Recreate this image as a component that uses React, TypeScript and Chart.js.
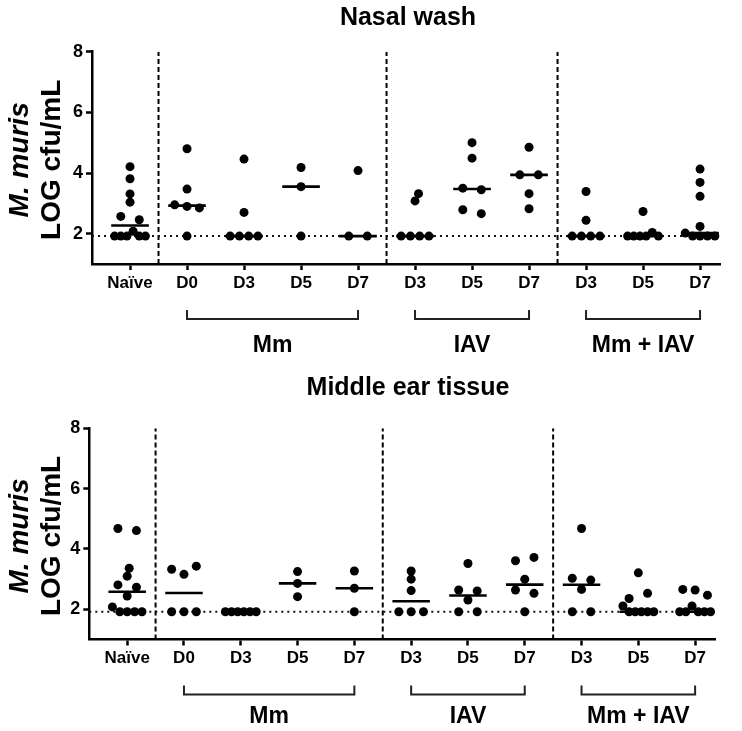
import React, { useEffect, useRef } from "react";
import { Chart, registerables } from "chart.js";

Chart.register(...registerables);

// ---------- data ----------
const categories = ["Naïve", "D0", "D3", "D5", "D7", "D3", "D5", "D7", "D3", "D5", "D7"];
const groupLabels = ["Mm", "IAV", "Mm + IAV"];
const groupFirst = [1, 5, 8];
const groupLast = [4, 7, 10];
const separatorsAt = [0.5, 4.5, 7.5];
const yTickValues = [2, 4, 6, 8];
const Y_MIN = 1;
const Y_MAX = 8;
const LOD = 1.92;
const L = LOD;

// Nasal wash (log cfu/mL)
const nasalNaive = [L, L, L, 2.08, L, L, 2.57, 2.46, 3.04, 3.31, 3.81, 4.21];
const nasalMmD0 = [L, 2.95, 2.9, 2.85, 3.47, 4.8];
const nasalMmD3 = [L, L, L, L, 2.7, 4.46];
const nasalMmD5 = [L, 3.55, 4.18];
const nasalMmD7 = [L, L, 4.08];
const nasalIavD3 = [L, L, L, L, 3.08, 3.32];
const nasalIavD5 = [2.79, 2.66, 3.5, 3.45, 4.49, 5.0];
const nasalIavD7 = [2.82, 3.32, 3.94, 3.94, 4.85];
const nasalMixD3 = [L, L, L, L, 2.44, 3.39];
const nasalMixD5 = [L, L, L, L, 2.04, L, 2.73];
const nasalMixD7 = [2.02, L, L, L, L, 2.24, 3.23, 3.69, 4.13];

// Middle ear tissue (log cfu/mL)
const earNaive = [2.08, L, L, L, L, 2.44, 2.81, 2.73, 3.1, 3.36, 4.68, 4.61];
const earMmD0 = [L, L, L, 3.33, 3.16, 3.43];
const earMmD3 = [L, L, L, L, L, L];
const earMmD5 = [2.42, 2.86, 3.25];
const earMmD7 = [L, 2.7, 3.27];
const earIavD3 = [L, L, L, 2.62, 3.0, 3.27];
const earIavD5 = [L, L, 2.31, 2.64, 2.61, 3.52];
const earIavD7 = [L, 2.64, 2.53, 3.0, 3.61, 3.72];
const earMixD3 = [L, L, 2.66, 3.03, 2.97, 4.68];
const earMixD5 = [2.11, L, L, L, L, L, 2.36, 2.53, 3.21];
const earMixD7 = [L, L, 2.11, L, L, L, 2.66, 2.64, 2.47];

const nasalSeries = [
  nasalNaive, nasalMmD0, nasalMmD3, nasalMmD5, nasalMmD7,
  nasalIavD3, nasalIavD5, nasalIavD7, nasalMixD3, nasalMixD5, nasalMixD7,
];
const earSeries = [
  earNaive, earMmD0, earMmD3, earMmD5, earMmD7,
  earIavD3, earIavD5, earIavD7, earMixD3, earMixD5, earMixD7,
];

// ---------- styles / layout ----------
const FONT = "'Liberation Sans', Arial, sans-serif";
const X_MIN = -0.667;
const X_MAX = 10.35;
const MEDIAN_HALF = 0.33;
const DOT_R = 4.5;
const ROW_WIDTH_PX = 37;
const COLLIDE_PX = 8;

type PanelLayout = {
  title: string;
  series: number[][];
  height: number;
  top: number;
  padTop: number;
  padRight: number;
  yAxisWidth: number;
  chartBottom: number;
  groupDy: number;
};

const panels: PanelLayout[] = [
  { title: "Nasal wash", series: nasalSeries, height: 370, top: 0, padTop: 51.7, padRight: 22, yAxisWidth: 92, chartBottom: 264, groupDy: 82 },
  { title: "Middle ear tissue", series: earSeries, height: 361, top: 370, padTop: 58.3, padRight: 27, yAxisWidth: 89.3, chartBottom: 269.5, groupDy: 77 },
];

function median(vals: number[]) {
  const s = [...vals].sort((a, b) => a - b);
  const n = s.length;
  return n % 2 ? s[(n - 1) / 2] : (s[n / 2 - 1] + s[n / 2]) / 2;
}

// deterministic dot-plot spreading (pixel space), GraphPad-like
function spread(vals: number[], toPy: (v: number) => number): number[] {
  const idx = vals.map((_, i) => i).sort((a, b) => vals[a] - vals[b] || a - b);
  const rows: number[][] = [];
  let cur = [idx[0]];
  for (let k = 1; k < idx.length; k++) {
    if (vals[idx[k]] - vals[idx[k - 1]] <= 0.2) cur.push(idx[k]);
    else {
      rows.push(cur);
      cur = [idx[k]];
    }
  }
  rows.push(cur);
  const placed: { x: number; y: number }[] = [];
  const off = new Array(vals.length).fill(0);
  for (const row of rows) {
    const r = [...row].sort((a, b) => a - b);
    const n = r.length;
    const sp = ROW_WIDTH_PX / n;
    const newPts: { x: number; y: number }[] = [];
    r.forEach((i, j) => {
      const y = toPy(vals[i]);
      let x = (j - (n - 1) / 2) * sp;
      if (n === 1) {
        const ok = (cx: number) => placed.every((p) => Math.hypot(p.x - cx, p.y - y) >= COLLIDE_PX);
        if (!ok(0)) {
          for (let s = 0.5; s <= 25; s += 0.5) {
            if (ok(s)) { x = s; break; }
            if (ok(-s)) { x = -s; break; }
          }
        }
      }
      off[i] = x;
      newPts.push({ x, y });
    });
    placed.push(...newPts);
  }
  return off;
}

function makeDecor(p: PanelLayout) {
  return {
    id: "decor",
    afterDraw(chart: any) {
      const { ctx, chartArea, scales } = chart;
      const xs = scales.x;
      ctx.save();
      ctx.fillStyle = "#000";
      // title
      ctx.textAlign = "center";
      ctx.textBaseline = "middle";
      ctx.font = `bold 25px ${FONT}`;
      ctx.fillText(p.title, 408, 18);
      // y axis title (two lines, first italic)
      const cy = (chartArea.top + chartArea.bottom) / 2 + 2;
      ctx.save();
      ctx.translate(28, cy);
      ctx.rotate(-Math.PI / 2);
      ctx.textBaseline = "alphabetic";
      ctx.font = `italic bold 28px ${FONT}`;
      ctx.fillText("M. muris", 0, 0);
      ctx.restore();
      ctx.save();
      ctx.translate(60, cy);
      ctx.rotate(-Math.PI / 2);
      ctx.textBaseline = "alphabetic";
      ctx.font = `bold 28px ${FONT}`;
      ctx.fillText("LOG cfu/mL", 0, 0);
      ctx.restore();
      // group brackets
      ctx.strokeStyle = "#222";
      ctx.lineWidth = 2;
      groupLabels.forEach((g, k) => {
        const x1 = xs.getPixelForValue(groupFirst[k]);
        const x2 = xs.getPixelForValue(groupLast[k]);
        const yt = chartArea.bottom + 46;
        const yb = chartArea.bottom + 55;
        ctx.beginPath();
        ctx.moveTo(x1, yt);
        ctx.lineTo(x1, yb);
        ctx.lineTo(x2, yb);
        ctx.lineTo(x2, yt);
        ctx.stroke();
        ctx.font = `bold 23px ${FONT}`;
        ctx.textBaseline = "middle";
        ctx.textAlign = "center";
        ctx.fillText(g, (x1 + x2) / 2, chartArea.bottom + p.groupDy);
      });
      ctx.restore();
    },
  };
}

function buildConfig(p: PanelLayout): any {
  const pointsInit = p.series.flatMap((vals, i) => vals.map((v) => ({ x: i, y: v })));
  const medianSets = p.series.map((vals, i) => {
    const m = median(vals);
    return {
      data: [{ x: i - MEDIAN_HALF, y: m }, { x: i + MEDIAN_HALF, y: m }],
      showLine: true,
      borderColor: "#000",
      borderWidth: 2.6,
      pointRadius: 0,
    };
  });
  const lodSet = {
    data: [{ x: X_MIN, y: LOD }, { x: X_MAX, y: LOD }],
    showLine: true,
    borderColor: "#111",
    borderWidth: 2,
    borderDash: [2, 4],
    pointRadius: 0,
  };
  const sepSets = separatorsAt.map((s) => ({
    data: [{ x: s, y: Y_MIN }, { x: s, y: Y_MAX }],
    showLine: true,
    borderColor: "#000",
    borderWidth: 2,
    borderDash: [5, 3],
    pointRadius: 0,
  }));
  const tickFont = { family: FONT, size: 17, weight: "bold" as const };
  const yTickFont = { family: FONT, size: 18, weight: "bold" as const };
  const grid = {
    display: true,
    drawOnChartArea: false,
    drawTicks: true,
    tickLength: 6,
    tickWidth: 2.5,
    tickColor: "#000",
  };
  const border = { display: true, color: "#000", width: 2.5 };
  return {
    type: "scatter",
    data: {
      datasets: [
        {
          data: pointsInit,
          pointRadius: DOT_R,
          pointBackgroundColor: "#000",
          pointBorderWidth: 0,
          showLine: false,
          clip: false,
        },
        ...medianSets,
        lodSet,
        ...sepSets,
      ],
    },
    options: {
      responsive: false,
      maintainAspectRatio: false,
      devicePixelRatio: 1,
      animation: false,
      events: [],
      layout: { padding: { top: p.padTop, left: 0, right: p.padRight, bottom: 0 } },
      plugins: { legend: { display: false }, tooltip: { enabled: false }, title: { display: false } },
      scales: {
        x: {
          type: "linear",
          min: X_MIN,
          max: X_MAX,
          afterBuildTicks: (s: any) => {
            s.ticks = categories.map((_, i) => ({ value: i }));
          },
          afterFit: (s: any) => {
            s.height = p.height - p.chartBottom;
          },
          ticks: {
            callback: (v: any) => categories[Math.round(Number(v))] ?? "",
            font: tickFont,
            color: "#000",
            padding: 3,
            autoSkip: false,
            maxRotation: 0,
          },
          grid,
          border,
        },
        y: {
          type: "linear",
          min: Y_MIN,
          max: Y_MAX,
          afterBuildTicks: (s: any) => {
            s.ticks = yTickValues.map((v) => ({ value: v }));
          },
          afterFit: (s: any) => {
            s.width = p.yAxisWidth;
          },
          ticks: { font: yTickFont, color: "#000", padding: 3 },
          grid,
          border,
        },
      },
    },
    plugins: [makeDecor(p)],
  };
}

function Panel({ p }: { p: PanelLayout }) {
  const ref = useRef<HTMLCanvasElement | null>(null);
  useEffect(() => {
    if (!ref.current) return;
    const chart = new Chart(ref.current, buildConfig(p));
    const xs: any = chart.scales.x;
    const ys: any = chart.scales.y;
    const pxPerX = xs.getPixelForValue(1) - xs.getPixelForValue(0);
    const pts = p.series.flatMap((vals, i) => {
      const offs = spread(vals, (v) => ys.getPixelForValue(v));
      return vals.map((v, j) => ({ x: i + offs[j] / pxPerX, y: v }));
    });
    (chart.data.datasets[0] as any).data = pts;
    chart.update();
    return () => chart.destroy();
  }, [p]);
  return (
    <canvas
      ref={ref}
      width={742}
      height={p.height}
      style={{ position: "absolute", left: 0, top: p.top, width: 742, height: p.height, display: "block" }}
    />
  );
}

export default function App() {
  return (
    <div style={{ position: "absolute", left: 0, top: 0, width: 742, height: 731, background: "#fff", overflow: "hidden" }}>
      {panels.map((p) => (
        <Panel key={p.title} p={p} />
      ))}
    </div>
  );
}
